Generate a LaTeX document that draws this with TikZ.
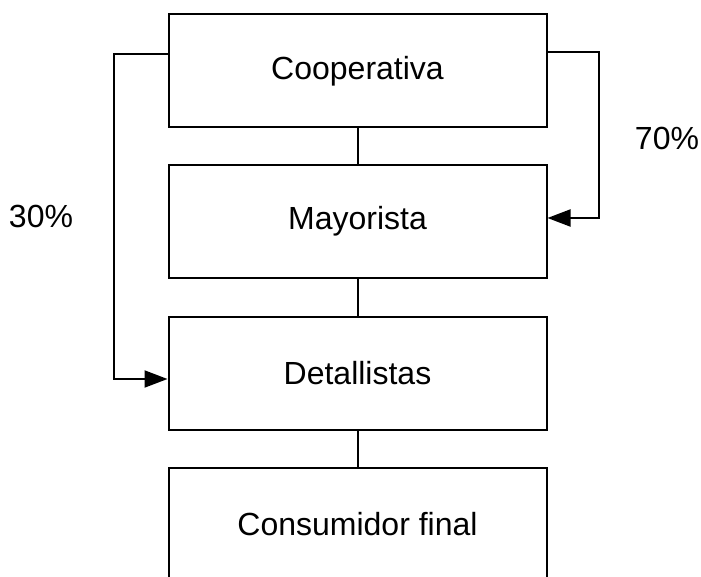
\documentclass[tikz,border=0pt]{standalone}
\usepackage{fontspec}
\setmainfont{Liberation Sans}
\usetikzlibrary{arrows.meta}
\begin{document}
\begin{tikzpicture}[x=1pt,y=-1pt,
  stage/.style={draw=black,line width=2pt,minimum width=378pt,minimum height=113pt,inner sep=0pt,font=\fontsize{32}{38}\selectfont},
  link/.style={line width=2pt},
  flow/.style={line width=2pt,-{Triangle[length=23pt,width=17pt]}},
  pct/.style={font=\fontsize{32}{38}\selectfont}]
\useasboundingbox (0,0) rectangle (701,577);
\clip (0,0) rectangle (701,577);
\node[stage] (coop) at (357.5,70.8) {Cooperativa};
\node[stage] (may) at (357.5,221.5) {Mayorista};
\node[stage] (det) at (357.5,373.5) {Detallistas};
\node[stage] (cons) at (357.5,524.5) {Consumidor final};
\draw[link] (coop) -- (may);
\draw[link] (may) -- (det);
\draw[link] (det) -- (cons);
\coordinate (lstart) at (coop.west |- 0,54);
\coordinate (rstart) at (coop.east |- 0,52);
\draw[flow] (lstart) -- (114,54) -- (114,379) -- (det.west |- 0,379);
\draw[flow] (rstart) -- (599,52) -- (599,218) -- (may.east |- 0,218);
\node[pct] (p70) at (667,138) {70\%};
\node[pct] (p30) at (41,216) {30\%};
\end{tikzpicture}
\end{document}
